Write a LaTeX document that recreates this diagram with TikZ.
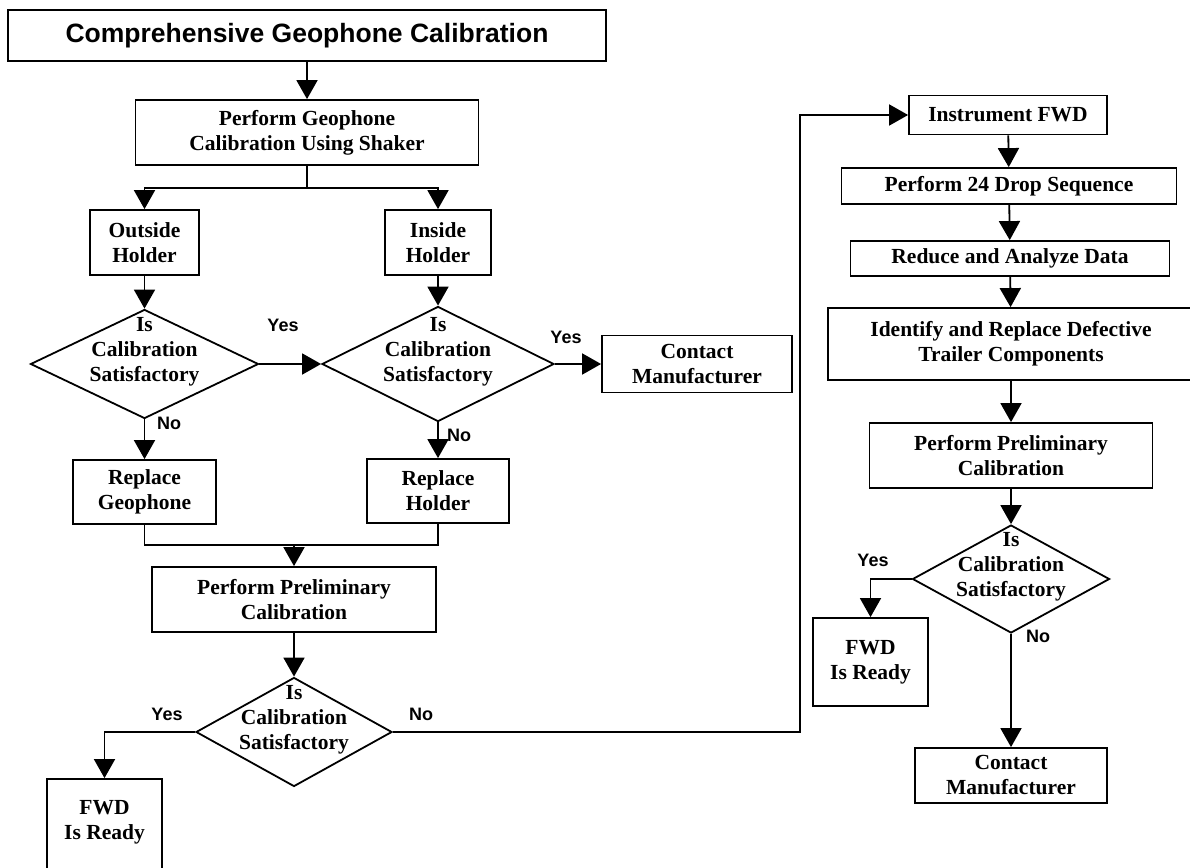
\documentclass[tikz,border=0pt]{standalone}
\usepackage{fontspec}
\setmainfont{Liberation Serif}
\newfontfamily\arialfont{Liberation Sans}
\usetikzlibrary{arrows.meta,shapes.geometric}
\newcommand{\boxfont}{\fontsize{21.5pt}{25pt}\selectfont\bfseries}
\newcommand{\titlefont}{\arialfont\fontsize{26.5pt}{30pt}\selectfont\bfseries}
\newcommand{\answerfont}{\arialfont\fontsize{18pt}{20pt}\selectfont\bfseries}
\newcommand{\question}[1]{\makebox[0pt]{\smash{\raisebox{7pt}{\begin{tabular}{@{}c@{}}#1\end{tabular}}}}}

\begin{document}
\begin{tikzpicture}[
  x=1pt, y=-1pt,
  >={Triangle[length=19pt,width=21pt]},
  stepbox/.style={draw, line width=1.8pt, align=center, inner sep=0pt, font=\boxfont},
  check/.style={draw, diamond, line width=1.8pt, inner sep=0pt, font=\boxfont},
  flow/.style={->, line width=1.8pt},
  link/.style={line width=1.8pt},
  answer/.style={font=\answerfont}
]
  \useasboundingbox (0,0) rectangle (1190,867);

  \node[stepbox, minimum width=598pt, minimum height=51pt, font=\titlefont] (title) at (307,35.5)
    {Comprehensive Geophone Calibration};
  \node[stepbox, minimum width=343pt, minimum height=65pt] (shaker) at (307,132.5)
    {Perform Geophone\\Calibration Using Shaker};
  \draw[flow] (title) -- (shaker);

  \node[stepbox, minimum width=109pt, minimum height=65pt] (outside) at (144.5,242.5)
    {Outside\\Holder};
  \node[stepbox, minimum width=106pt, minimum height=65pt] (inside) at (438,242.5)
    {Inside\\Holder};
  \coordinate (split) at (307,188);
  \draw[link] (shaker) -- (split);
  \draw[flow] (split) -| (outside);
  \draw[flow] (split) -| (inside);

  \node[check, minimum width=228pt, minimum height=109pt] (checkout) at (144.5,364)
    {\question{Is\\Calibration\\Satisfactory}};
  \node[check, minimum width=232pt, minimum height=115pt] (checkin) at (438,364)
    {\question{Is\\Calibration\\Satisfactory}};
  \node[stepbox, minimum width=190pt, minimum height=57pt] (makerA) at (697,364)
    {Contact\\Manufacturer};
  \draw[flow] (outside) -- (checkout);
  \draw[flow] (inside) -- (checkin);
  \draw[flow] (checkout) -- (checkin);
  \draw[flow] (checkin) -- (makerA);
  \node[answer] (yesout) at (283,325) {Yes};
  \node[answer] (yesin) at (566,337) {Yes};

  \node[stepbox, minimum width=143pt, minimum height=64pt] (geophone) at (144.5,492)
    {Replace\\Geophone};
  \node[stepbox, minimum width=142pt, minimum height=64pt] (holder) at (438,491)
    {Replace\\Holder};
  \draw[flow] (checkout) -- (geophone);
  \draw[flow] (checkin) -- (holder);
  \node[answer] (noout) at (169,423) {No};
  \node[answer] (noin) at (459,435) {No};

  \node[stepbox, minimum width=284pt, minimum height=65pt] (prelimA) at (294,599.5)
    {Perform Preliminary\\Calibration};
  \coordinate (merge) at (294,545);
  \draw[link] (geophone) |- (merge) -| (holder);
  \draw[flow] (merge) -- (prelimA);

  \node[check, minimum width=196pt, minimum height=109pt] (checkA) at (294,732)
    {\question{Is\\Calibration\\Satisfactory}};
  \node[stepbox, minimum width=115pt, minimum height=106pt] (readyA) at (104.5,832)
    {FWD\\Is Ready\\~};
  \draw[flow] (prelimA) -- (checkA);
  \draw[flow] (checkA) -| (readyA);
  \node[answer] (yesA) at (167,714) {Yes};
  \node[answer] (noA) at (421,714) {No};

  \node[stepbox, minimum width=198pt, minimum height=39pt] (instrument) at (1008,115)
    {Instrument FWD};
  \coordinate (looptop) at (800,115);
  \draw[flow] (checkA) -| (looptop) -- (instrument);

  \node[stepbox, minimum width=335pt, minimum height=36pt] (drops) at (1009,186)
    {Perform 24 Drop Sequence};
  \node[stepbox, minimum width=319pt, minimum height=35pt] (reduce) at (1010,258.5)
    {Reduce and Analyze Data};
  \node[stepbox, minimum width=366pt, minimum height=72pt] (trailer) at (1011,344)
    {Identify and Replace Defective\\Trailer Components};
  \node[stepbox, minimum width=283pt, minimum height=65pt] (prelimB) at (1011,455.5)
    {Perform Preliminary\\Calibration};
  \draw[flow] (instrument) -- (drops);
  \draw[flow] (drops) -- (reduce);
  \draw[flow] (reduce) -- (trailer);
  \draw[flow] (trailer) -- (prelimB);

  \node[check, minimum width=197pt, minimum height=108pt] (checkB) at (1011,579)
    {\question{Is\\Calibration\\Satisfactory}};
  \node[stepbox, minimum width=115pt, minimum height=88pt] (readyB) at (870.5,662)
    {FWD\\Is Ready};
  \node[stepbox, minimum width=192pt, minimum height=55pt] (makerB) at (1011,775.5)
    {Contact\\Manufacturer};
  \draw[flow] (prelimB) -- (checkB);
  \draw[flow] (checkB) -| (readyB);
  \draw[flow] (checkB) -- (makerB);
  \node[answer] (yesB) at (873,560) {Yes};
  \node[answer] (noB) at (1038,636) {No};
\end{tikzpicture}
\end{document}
